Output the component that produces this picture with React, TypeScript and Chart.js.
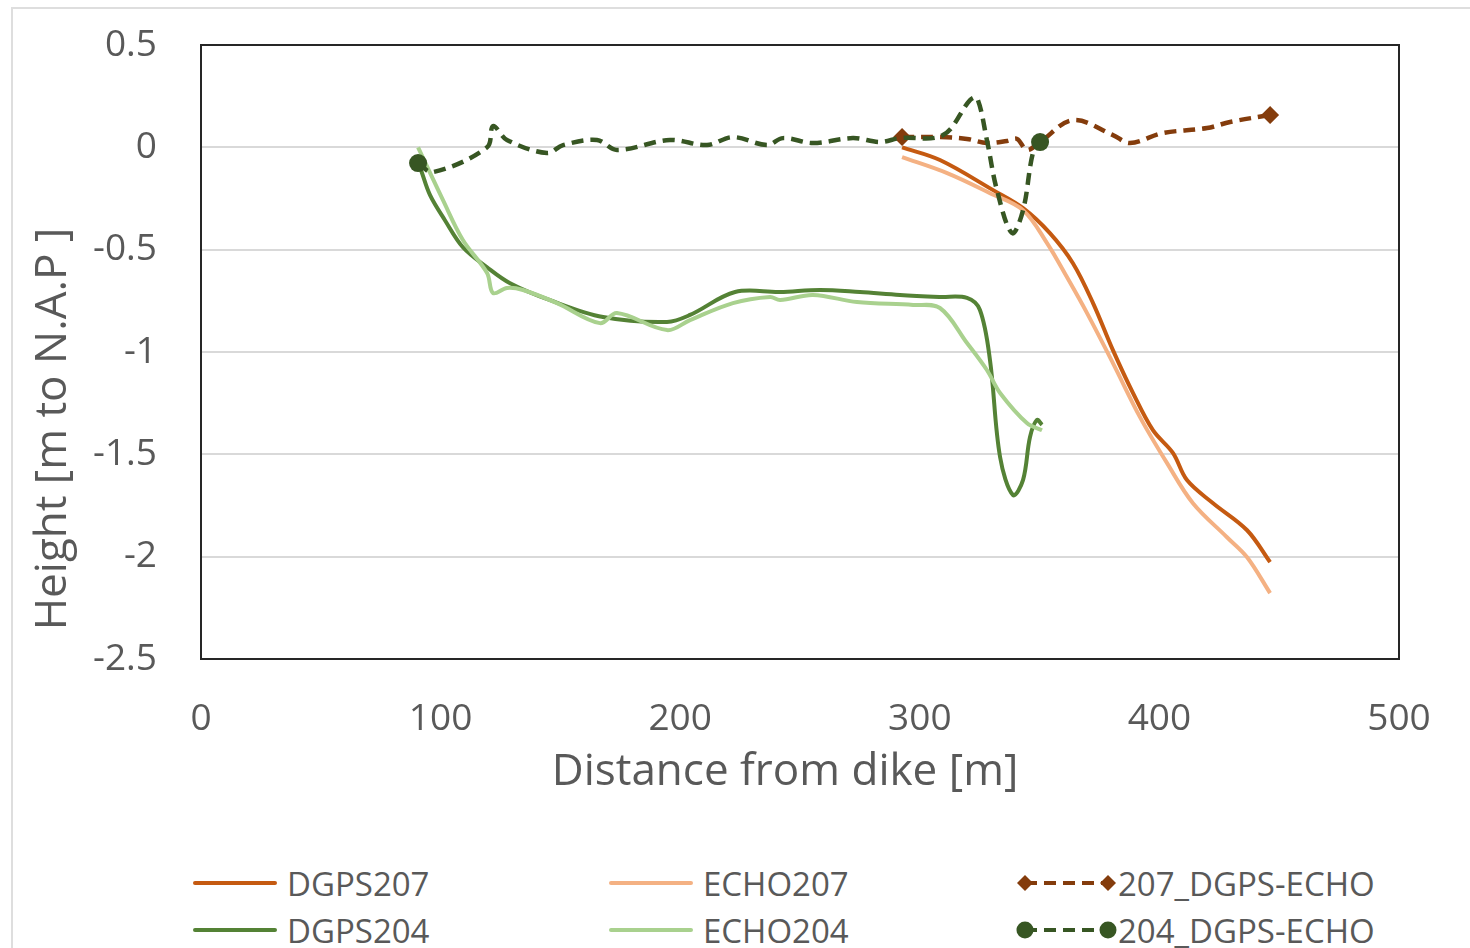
import React, { useEffect, useRef } from "react";
import { Chart, registerables } from "chart.js";

Chart.register(...registerables);

const xTickValues = [0, 100, 200, 300, 400, 500];
const yTickValues = [0.5, 0, -0.5, -1, -1.5, -2, -2.5];

const seriesNames = ["DGPS207", "ECHO207", "207_DGPS-ECHO", "DGPS204", "ECHO204", "204_DGPS-ECHO"];

const dgps207X = [292.6, 308.4, 330.6, 343.1, 354.3, 363.9, 372.3, 380.6, 389.0, 397.3, 405.7, 411.5, 422.4, 436.6, 446.2];
const dgps207Y = [0.0, -0.062, -0.209, -0.297, -0.419, -0.566, -0.761, -0.991, -1.201, -1.382, -1.494, -1.626, -1.739, -1.871, -2.027];

const echo207X = [292.6, 311.4, 329.3, 343.1, 353.1, 361.4, 369.8, 380.6, 391.9, 403.2, 414.0, 428.2, 436.6, 446.2];
const echo207Y = [-0.048, -0.126, -0.224, -0.307, -0.468, -0.634, -0.81, -1.054, -1.318, -1.543, -1.739, -1.905, -2.003, -2.178];

const diff207X = [292.6, 308.4, 319.7, 328.0, 336.4, 340.6, 344.7, 350.2, 363.9, 380.6, 387.7, 401.5, 419.9, 429.5, 446.2];
const diff207Y = [0.05, 0.05, 0.041, 0.021, 0.031, 0.041, -0.013, 0.026, 0.133, 0.06, 0.021, 0.07, 0.094, 0.124, 0.158];

const dgps204X = [90.6, 91.8, 95.6, 101.8, 109.3, 119.4, 129.0, 145.7, 167.8, 194.5, 204.1, 222.9, 241.7, 258.3, 275.0, 291.7, 308.4, 319.7, 325.1, 329.3, 333.5, 338.9, 343.1, 346.0, 348.9, 351.0];
const dgps204Y = [-0.077, -0.111, -0.234, -0.356, -0.488, -0.586, -0.664, -0.747, -0.829, -0.853, -0.819, -0.707, -0.707, -0.697, -0.707, -0.721, -0.731, -0.736, -0.795, -1.04, -1.513, -1.699, -1.625, -1.415, -1.332, -1.356];

const echo204X = [90.6, 101.0, 109.3, 119.4, 121.9, 127.7, 134.4, 148.6, 166.5, 173.6, 194.5, 204.1, 222.0, 237.5, 241.7, 255.4, 273.8, 297.2, 308.4, 319.7, 328.0, 333.5, 344.7, 351.0];
const echo204Y = [0.0, -0.258, -0.453, -0.614, -0.712, -0.687, -0.697, -0.761, -0.859, -0.81, -0.893, -0.844, -0.761, -0.731, -0.746, -0.721, -0.756, -0.77, -0.785, -0.956, -1.088, -1.2, -1.347, -1.382];

const diff204X = [90.6, 96.8, 119.4, 121.9, 127.7, 144.4, 151.1, 165.3, 173.6, 195.7, 211.2, 222.0, 236.2, 242.9, 255.4, 272.1, 283.4, 291.7, 309.7, 321.0, 323.9, 328.0, 332.2, 338.5, 343.1, 347.2, 350.2];
const diff204Y = [-0.077, -0.121, 0.0, 0.104, 0.036, -0.028, 0.011, 0.036, -0.013, 0.036, 0.011, 0.05, 0.011, 0.045, 0.021, 0.045, 0.026, 0.045, 0.06, 0.231, 0.241, 0.036, -0.209, -0.419, -0.307, -0.028, 0.026];

const COLORS = {
  dgps207: "#C55A11",
  echo207: "#F4B183",
  diff207: "#843C0C",
  dgps204: "#548235",
  echo204: "#A9D18E",
  diff204: "#375623",
};

const TEXT = "#595959";
const FONT = "'Open Sans', 'Noto Sans', sans-serif";
const CANVAS_W = 1470;
const CANVAS_H = 800;
const PLOT_LEFT = 201;
const PLOT_TOP = 45;
const PLOT_RIGHT = 1399;
const PLOT_BOTTOM = 659;

function pts(xs: number[], ys: number[]) {
  return xs.map((x, i) => ({ x, y: ys[i] }));
}

const framePlugin = {
  id: "frameAndTitles",
  beforeDatasetsDraw(chart: any) {
    const { ctx, chartArea } = chart;
    ctx.save();
    ctx.strokeStyle = "#262626";
    ctx.lineWidth = 2;
    ctx.strokeRect(chartArea.left, chartArea.top, chartArea.right - chartArea.left, chartArea.bottom - chartArea.top);
    ctx.restore();
  },
  afterDraw(chart: any) {
    const { ctx } = chart;
    ctx.save();
    ctx.fillStyle = TEXT;
    ctx.font = `44px ${FONT}`;
    ctx.textAlign = "center";
    ctx.textBaseline = "middle";
    ctx.fillText("Distance from dike [m]", 785, 772);
    ctx.translate(53, 429);
    ctx.rotate(-Math.PI / 2);
    ctx.fillText("Height [m to N.A.P ]", 0, 0);
    ctx.restore();
  },
};

function LegendIcon({ color, dashed, marker }: { color: string; dashed?: boolean; marker?: "diamond" | "circle" }) {
  if (!marker) {
    return (
      <svg width={84} height={20} style={{ display: "block" }}>
        <line x1={2} y1={10} x2={82} y2={10} stroke={color} strokeWidth={4} strokeLinecap="round" />
      </svg>
    );
  }
  const m = (cx: number) =>
    marker === "diamond" ? (
      <polygon points={`${cx},2 ${cx + 8},10 ${cx},18 ${cx - 8},10`} fill={color} />
    ) : (
      <circle cx={cx} cy={10} r={8.5} fill={color} />
    );
  return (
    <svg width={103} height={20} style={{ display: "block" }}>
      <line x1={10} y1={10} x2={93} y2={10} stroke={color} strokeWidth={4} strokeDasharray={dashed ? "12 7" : undefined} />
      {m(10)}
      {m(93)}
    </svg>
  );
}

function LegendItem({ left, top, gap, label, children }: any) {
  return (
    <div
      style={{
        position: "absolute",
        left,
        top: top - 22,
        height: 44,
        display: "flex",
        alignItems: "center",
        fontFamily: FONT,
        fontSize: 33,
        color: TEXT,
        whiteSpace: "nowrap",
      }}
    >
      {children}
      <span style={{ marginLeft: gap }}>{label}</span>
    </div>
  );
}

export default function App() {
  const canvasRef = useRef<HTMLCanvasElement | null>(null);

  useEffect(() => {
    if (!canvasRef.current) return;
    const endsOnly = (n: number) => (c: any) => (c.dataIndex === 0 || c.dataIndex === n - 1 ? 9 : 0);
    const chart = new Chart(canvasRef.current, {
      type: "scatter",
      data: {
        datasets: [
          {
            label: seriesNames[0],
            data: pts(dgps207X, dgps207Y),
            borderColor: COLORS.dgps207,
            backgroundColor: COLORS.dgps207,
            showLine: true,
            borderWidth: 4,
            pointRadius: 0,
            tension: 0.35,
            order: 6,
          },
          {
            label: seriesNames[1],
            data: pts(echo207X, echo207Y),
            borderColor: COLORS.echo207,
            backgroundColor: COLORS.echo207,
            showLine: true,
            borderWidth: 4,
            pointRadius: 0,
            tension: 0.35,
            order: 5,
          },
          {
            label: seriesNames[2],
            data: pts(diff207X, diff207Y),
            borderColor: COLORS.diff207,
            backgroundColor: COLORS.diff207,
            showLine: true,
            borderWidth: 4.5,
            borderDash: [12, 7],
            pointStyle: "rectRot",
            pointRadius: endsOnly(diff207X.length),
            pointBorderWidth: 0,
            tension: 0.35,
            order: 4,
          },
          {
            label: seriesNames[3],
            data: pts(dgps204X, dgps204Y),
            borderColor: COLORS.dgps204,
            backgroundColor: COLORS.dgps204,
            showLine: true,
            borderWidth: 4,
            pointRadius: 0,
            tension: 0.35,
            order: 3,
          },
          {
            label: seriesNames[4],
            data: pts(echo204X, echo204Y),
            borderColor: COLORS.echo204,
            backgroundColor: COLORS.echo204,
            showLine: true,
            borderWidth: 4,
            pointRadius: 0,
            tension: 0.35,
            order: 2,
          },
          {
            label: seriesNames[5],
            data: pts(diff204X, diff204Y),
            borderColor: COLORS.diff204,
            backgroundColor: COLORS.diff204,
            showLine: true,
            borderWidth: 4.5,
            borderDash: [12, 7],
            pointStyle: "circle",
            pointRadius: endsOnly(diff204X.length),
            pointBorderWidth: 0,
            tension: 0.35,
            order: 1,
          },
        ],
      },
      options: {
        animation: false,
        responsive: false,
        maintainAspectRatio: false,
        layout: { padding: { left: 0, top: PLOT_TOP, right: CANVAS_W - PLOT_RIGHT, bottom: 0 } },
        plugins: { legend: { display: false }, tooltip: { enabled: false }, title: { display: false } },
        scales: {
          x: {
            type: "linear",
            min: 0,
            max: 500,
            afterBuildTicks: (s: any) => {
              s.ticks = xTickValues.map((v) => ({ value: v }));
            },
            afterFit: (s: any) => {
              s.height = CANVAS_H - PLOT_BOTTOM;
              s.paddingLeft = 0;
              s.paddingRight = 0;
              s.paddingTop = 0;
              s.paddingBottom = 0;
            },
            grid: { display: false, drawTicks: false },
            border: { display: false },
            ticks: {
              color: TEXT,
              font: { family: FONT, size: 37 },
              padding: 38,
              maxRotation: 0,
              callback: (v: any) => String(v),
            },
          },
          y: {
            type: "linear",
            min: -2.5,
            max: 0.5,
            afterBuildTicks: (s: any) => {
              s.ticks = yTickValues.map((v) => ({ value: v }));
            },
            afterFit: (s: any) => {
              s.width = PLOT_LEFT;
              s.paddingLeft = 0;
              s.paddingRight = 0;
              s.paddingTop = 0;
              s.paddingBottom = 0;
            },
            grid: { color: "#d9d9d9", lineWidth: 2, drawTicks: false },
            border: { display: false },
            ticks: {
              color: TEXT,
              font: { family: FONT, size: 37 },
              padding: 44,
              callback: (v: any) => String(v),
            },
          },
        },
      },
      plugins: [framePlugin],
    });
    return () => chart.destroy();
  }, []);

  return (
    <div style={{ position: "fixed", left: 0, top: 0, width: 1470, height: 948, overflow: "hidden", background: "#fff" }}>
      <div
        style={{
          position: "absolute",
          left: 11,
          top: 7,
          width: 1520,
          height: 1020,
          border: "2px solid #dedede",
          boxSizing: "border-box",
        }}
      />
      <canvas
        ref={canvasRef}
        width={CANVAS_W}
        height={CANVAS_H}
        style={{ position: "absolute", left: 0, top: 0, width: CANVAS_W, height: CANVAS_H }}
      />
      <LegendItem left={193} top={883} gap={10} label={seriesNames[0]}>
        <LegendIcon color={COLORS.dgps207} />
      </LegendItem>
      <LegendItem left={609} top={883} gap={10} label={seriesNames[1]}>
        <LegendIcon color={COLORS.echo207} />
      </LegendItem>
      <LegendItem left={1015} top={883} gap={0} label={seriesNames[2]}>
        <LegendIcon color={COLORS.diff207} dashed marker="diamond" />
      </LegendItem>
      <LegendItem left={193} top={930} gap={10} label={seriesNames[3]}>
        <LegendIcon color={COLORS.dgps204} />
      </LegendItem>
      <LegendItem left={609} top={930} gap={10} label={seriesNames[4]}>
        <LegendIcon color={COLORS.echo204} />
      </LegendItem>
      <LegendItem left={1015} top={930} gap={0} label={seriesNames[5]}>
        <LegendIcon color={COLORS.diff204} dashed marker="circle" />
      </LegendItem>
    </div>
  );
}
